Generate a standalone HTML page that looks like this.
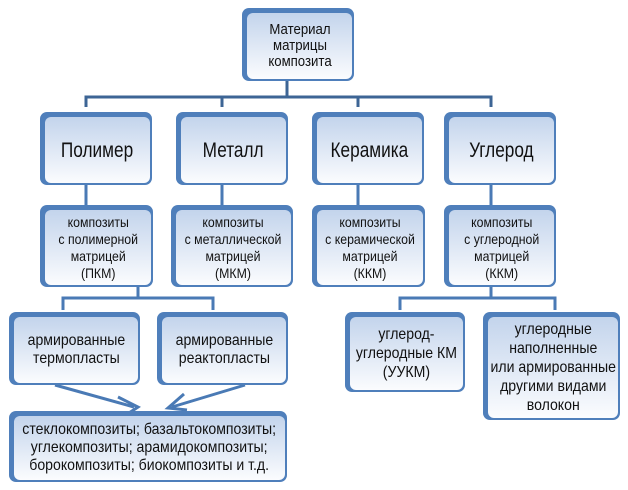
<!DOCTYPE html>
<html><head><meta charset="utf-8"><style>
body{margin:0;width:628px;height:490px;background:#fff;position:relative;overflow:hidden;font-family:"Liberation Sans",sans-serif;}
.b{position:absolute;background:#4f7fbb;border-radius:7px;}
.i{position:absolute;left:5px;top:5px;right:2px;bottom:2px;border-radius:6px;background:linear-gradient(#c3d4ec,#fbfcfe);display:flex;align-items:center;justify-content:center;text-align:center;color:#111;font-size:14px;line-height:17px;}
.i span{display:inline-block;transform:scaleX(0.88);white-space:nowrap;}
.L .i{font-size:21px;}
.L .i span{transform:scaleX(0.82);}
svg{position:absolute;left:0;top:0;}
</style></head><body>
<svg width="628" height="490">
<g stroke="#3d6595" stroke-width="3" fill="none">
<path d="M287 81V97M86 107V97H491V107M222 97V107M358 97V107"/>
</g>
<g stroke="#4a7ab5" stroke-width="3" fill="none">
<path d="M86 185V205M222 185V205M358 185V205M491 185V205"/>
<path d="M138 287V298M63 310V298H213V310"/>
<path d="M491 287V298M400 310V298H555V310"/>
<path d="M55 385L134 407M118 397L138 407L126 415"/>
<path d="M245 385L172 407M184 394L168 408L187 410"/>
</g>
</svg>
<div class="b" style="left:242px;top:8px;width:112px;height:73px"><div class="i" style="font-size:15px;line-height:16px"><span>Материал<br>матрицы<br>композита</span></div></div>
<div class="b L" style="left:40px;top:112px;width:112px;height:73px"><div class="i"><span>Полимер</span></div></div>
<div class="b L" style="left:176px;top:112px;width:112px;height:73px"><div class="i"><span>Металл</span></div></div>
<div class="b L" style="left:312px;top:112px;width:112px;height:73px"><div class="i"><span>Керамика</span></div></div>
<div class="b L" style="left:444px;top:112px;width:112px;height:73px"><div class="i"><span>Углерод</span></div></div>
<div class="b" style="left:40px;top:205px;width:113px;height:82px"><div class="i"><span>композиты<br>с полимерной<br>матрицей<br>(ПКМ)</span></div></div>
<div class="b" style="left:171px;top:205px;width:122px;height:82px"><div class="i"><span>композиты<br>с металлической<br>матрицей<br>(МКМ)</span></div></div>
<div class="b" style="left:312px;top:205px;width:113px;height:82px"><div class="i"><span>композиты<br>с керамической<br>матрицей<br>(ККМ)</span></div></div>
<div class="b" style="left:444px;top:205px;width:112px;height:82px"><div class="i"><span>композиты<br>с углеродной<br>матрицей<br>(ККМ)</span></div></div>
<div class="b" style="left:9px;top:312px;width:131px;height:73px"><div class="i" style="font-size:16px;line-height:18px"><span>армированные<br>термопласты</span></div></div>
<div class="b" style="left:157px;top:312px;width:131px;height:73px"><div class="i" style="font-size:16px;line-height:18px"><span>армированные<br>реактопласты</span></div></div>
<div class="b" style="left:9px;top:411px;width:278px;height:71px"><div class="i" style="font-size:16px;line-height:18px"><span>стеклокомпозиты; базальтокомпозиты;<br>углекомпозиты; арамидокомпозиты;<br>борокомпозиты; биокомпозиты и т.д.</span></div></div>
<div class="b" style="left:345px;top:312px;width:120px;height:80px"><div class="i" style="font-size:16px;line-height:19px"><span>углерод-<br>углеродные КМ<br>(УУКМ)</span></div></div>
<div class="b" style="left:483px;top:312px;width:137px;height:108px"><div class="i" style="font-size:16px;line-height:19px"><span>углеродные<br>наполненные<br>или армированные<br>другими видами<br>волокон</span></div></div>
</body></html>
